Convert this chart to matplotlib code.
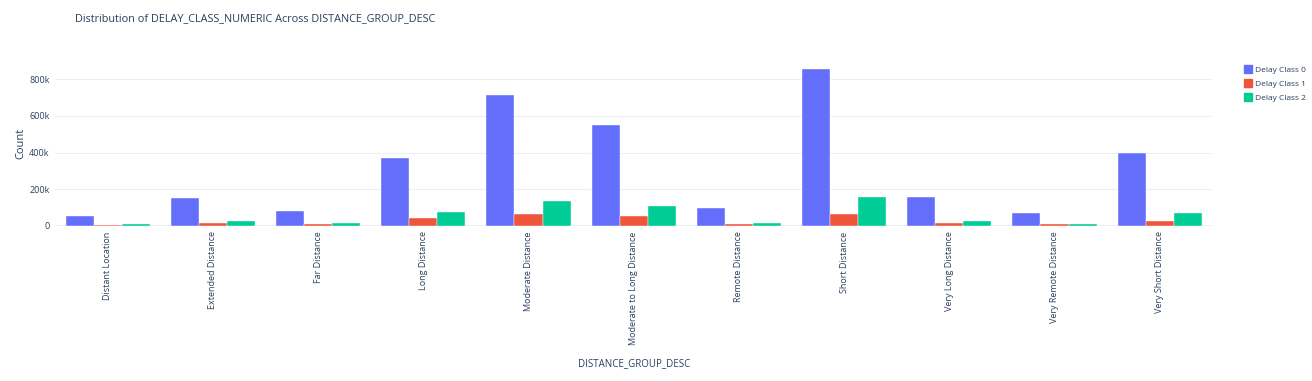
import matplotlib.pyplot as plt
import numpy as np

# categories and counts per delay class
categories = ["Distant Location", "Extended Distance", "Far Distance", "Long Distance",
              "Moderate Distance", "Moderate to Long Distance", "Remote Distance",
              "Short Distance", "Very Long Distance", "Very Remote Distance",
              "Very Short Distance"]
class0 = [54000, 151000, 80000, 370000, 715000, 553000, 98000, 855000, 160000, 69000, 399000]
class1 = [7000, 18000, 11000, 42000, 65000, 56000, 13000, 67000, 18000, 9000, 29000]
class2 = [11000, 27000, 14000, 75000, 134000, 107000, 16000, 156000, 27000, 12000, 69000]
series_names = ["Delay Class 0", "Delay Class 1", "Delay Class 2"]
colors = ["#636EFA", "#EF553B", "#00CC96"]

plt.rcParams['font.family'] = ['Open Sans', 'DejaVu Sans']

fig = plt.figure(figsize=(13.12, 3.81), dpi=100)
ax = fig.add_axes([0.042, 0.407, 0.882, 0.433])

x = np.arange(len(categories))
width = 0.8 / 3
for i, (vals, name, c) in enumerate(zip([class0, class1, class2], series_names, colors)):
    ax.bar(x - 0.4 + width * (i + 0.5), vals, width=width, color=c,
           edgecolor='white', linewidth=0.3, label=name, zorder=3)

ax.set_xlim(-0.5, len(categories) - 0.5)
ax.set_ylim(0, 900000)
ax.set_yticks([0, 200000, 400000, 600000, 800000])
ax.set_yticklabels(["0", "200k", "400k", "600k", "800k"], fontsize=6.5, color='#2a3f5f')
ax.set_xticks(x)
ax.set_xticklabels(categories, rotation=90, fontsize=6.5, color='#2a3f5f')
ax.tick_params(length=0, pad=4)

ax.grid(axis='y', color='#EBF0F8', linewidth=0.8, zorder=0)
ax.axhline(0, color='#EBF0F8', linewidth=1.5, zorder=2)
for s in ax.spines.values():
    s.set_visible(False)

ax.set_ylabel("Count", fontsize=8, color='#2a3f5f', labelpad=2)
ax.set_xlabel("DISTANCE_GROUP_DESC", fontsize=7, color='#2a3f5f')
ax.xaxis.set_label_coords(0.5, -0.8)

fig.text(0.057, 0.95, "Distribution of DELAY_CLASS_NUMERIC Across DISTANCE_GROUP_DESC",
         fontsize=7.8, color='#2a3f5f', va='center')

handles = [plt.Line2D([], [], marker='s', linestyle='', markersize=6, color=c) for c in colors]
fig.legend(handles, series_names, loc='upper left', bbox_to_anchor=(0.942, 0.845),
           frameon=False, fontsize=6, handletextpad=0.4, labelspacing=0.7,
           labelcolor='#2a3f5f', handlelength=1)

fig.savefig("out.png", dpi=100)
